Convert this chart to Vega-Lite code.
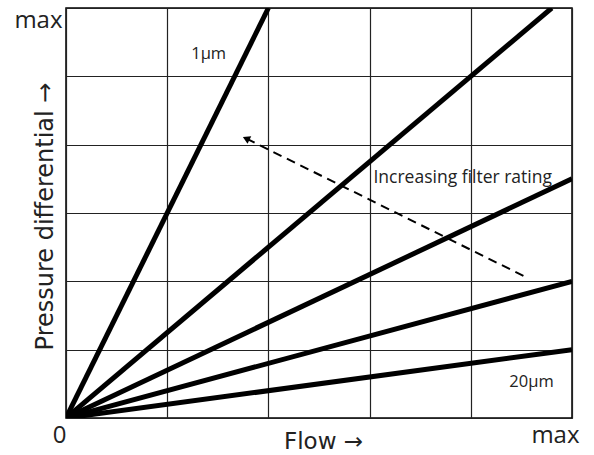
{
  "$schema": "https://vega.github.io/schema/vega-lite/v6.json",
  "width": 506,
  "height": 410,
  "autosize": "none",
  "padding": {"left": 66, "top": 8, "right": 22, "bottom": 37},
  "background": "white",
  "config": {
    "view": {"stroke": "black", "strokeWidth": 1.5},
    "font": "Open Sans"
  },
  "datasets": {
    "lines": [
      {"series": "1µm", "flow": 0, "pressure": 0},
      {"series": "1µm", "flow": 2, "pressure": 6},
      {"series": "b", "flow": 0, "pressure": 0},
      {"series": "b", "flow": 4.8, "pressure": 6},
      {"series": "c", "flow": 0, "pressure": 0},
      {"series": "c", "flow": 5, "pressure": 3.5},
      {"series": "d", "flow": 0, "pressure": 0},
      {"series": "d", "flow": 5, "pressure": 2},
      {"series": "20µm", "flow": 0, "pressure": 0},
      {"series": "20µm", "flow": 5, "pressure": 1}
    ],
    "arrow": [
      {"x1": 4.52, "y1": 2.08, "x2": 1.78, "y2": 4.09}
    ],
    "labels": [
      {"text": "1µm", "flow": 1.41, "pressure": 5.26, "size": 16.5},
      {"text": "Increasing filter rating", "flow": 3.92, "pressure": 3.44, "size": 17.5},
      {"text": "20µm", "flow": 4.6, "pressure": 0.45, "size": 16.5}
    ]
  },
  "layer": [
    {
      "data": {"name": "lines"},
      "mark": {"type": "line", "color": "black", "strokeWidth": 5, "strokeCap": "butt", "clip": true},
      "encoding": {
        "x": {
          "field": "flow", "type": "quantitative",
          "scale": {"domain": [0, 5], "nice": false, "zero": true},
          "axis": {
            "values": [0, 1, 2, 3, 4, 5],
            "domain": false, "ticks": false,
            "grid": true, "gridColor": "#222", "gridWidth": 1.2, "gridOpacity": 1,
            "labelExpr": "datum.value == 0 ? '0' : (datum.value == 5 ? 'max' : '')",
            "labelAlign": "right",
            "labelOffset": {"condition": {"test": "datum.value == 5", "value": 7}, "value": 0},
            "labelFontSize": 24, "labelColor": "#222", "labelPadding": 5,
            "labelFont": "Open Sans",
            "title": "Flow →", "titleFontSize": 23, "titleFontWeight": "normal",
            "titleColor": "#222", "titleFont": "DejaVu Sans",
            "titleBaseline": "alphabetic", "titleY": 30, "titleX": 257
          }
        },
        "y": {
          "field": "pressure", "type": "quantitative",
          "scale": {"domain": [0, 6], "nice": false, "zero": true},
          "axis": {
            "values": [0, 1, 2, 3, 4, 5, 6],
            "domain": false, "ticks": false,
            "grid": true, "gridColor": "#222", "gridWidth": 1.2, "gridOpacity": 1,
            "labelExpr": "datum.value == 6 ? 'max' : ''",
            "labelBaseline": "top",
            "labelFontSize": 24, "labelColor": "#222", "labelPadding": 4,
            "labelFont": "Open Sans",
            "title": "Pressure differential →", "titleFontSize": 24, "titleFontWeight": "normal",
            "titleColor": "#222", "titleFont": "DejaVu Sans",
            "titleBaseline": "alphabetic", "titleX": -14, "titleY": 208
          }
        },
        "detail": {"field": "series"}
      }
    },
    {
      "data": {"name": "arrow"},
      "mark": {"type": "rule", "color": "black", "strokeWidth": 2, "strokeDash": [9, 6]},
      "encoding": {
        "x": {"field": "x1", "type": "quantitative"},
        "y": {"field": "y1", "type": "quantitative"},
        "x2": {"field": "x2"},
        "y2": {"field": "y2"}
      }
    },
    {
      "data": {"name": "arrow"},
      "mark": {"type": "point", "shape": "triangle-up", "filled": true, "color": "black", "size": 70, "angle": 296, "opacity": 1},
      "encoding": {
        "x": {"field": "x2", "type": "quantitative"},
        "y": {"field": "y2", "type": "quantitative"}
      }
    },
    {
      "data": {"name": "labels"},
      "mark": {"type": "text", "color": "#222", "font": "Open Sans", "align": "center", "baseline": "alphabetic"},
      "encoding": {
        "x": {"field": "flow", "type": "quantitative"},
        "y": {"field": "pressure", "type": "quantitative"},
        "text": {"field": "text"},
        "size": {"field": "size", "type": "quantitative", "scale": null}
      }
    }
  ]
}
